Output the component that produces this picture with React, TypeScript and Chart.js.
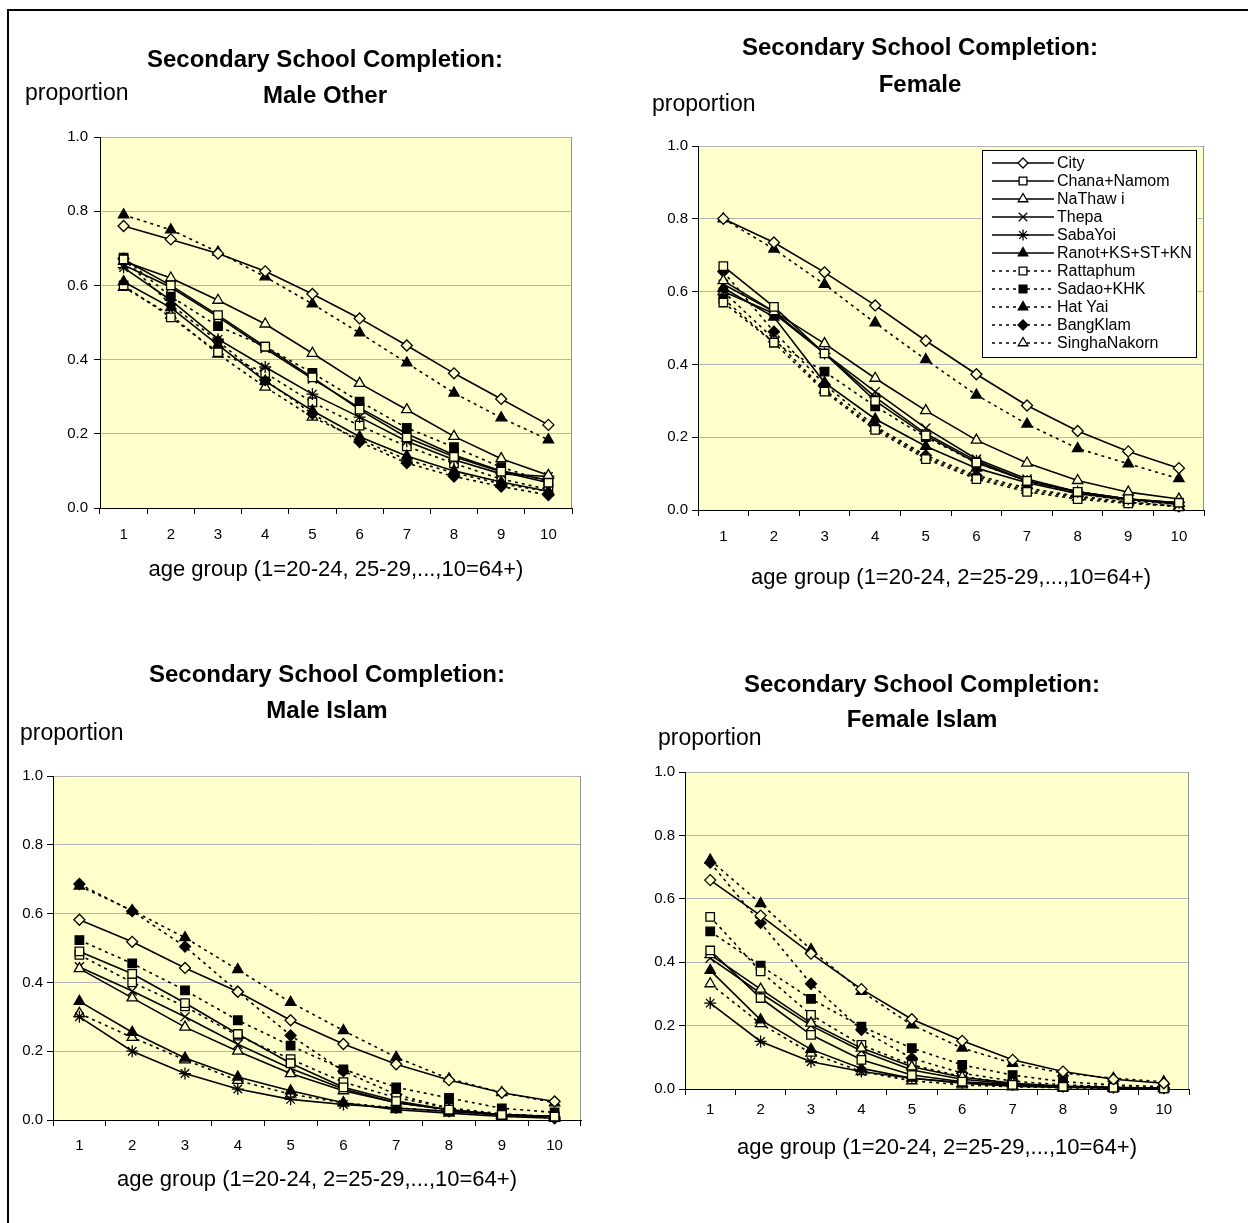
import React, { useEffect, useRef } from 'react';
import { Chart, registerables } from 'chart.js';

Chart.register(...registerables);

const FONT = "'Liberation Sans', Arial, Helvetica, sans-serif";
const PLOT_BG = '#FFFFCC';

// ---------- data ----------
const ageGroups = ['1', '2', '3', '4', '5', '6', '7', '8', '9', '10'];
const seriesNames = [
  'City', 'Chana+Namom', 'NaThaw i', 'Thepa', 'SabaYoi', 'Ranot+KS+ST+KN',
  'Rattaphum', 'Sadao+KHK', 'Hat Yai', 'BangKlam', 'SinghaNakorn',
];
const yTickValues = [0, 0.2, 0.4, 0.6, 0.8, 1.0];

// rows follow seriesNames order
const maleOther = [
  [0.76, 0.724, 0.686, 0.638, 0.577, 0.511, 0.438, 0.363, 0.294, 0.224],
  [0.67, 0.6, 0.52, 0.435, 0.352, 0.265, 0.19, 0.138, 0.098, 0.068],
  [0.665, 0.62, 0.56, 0.496, 0.417, 0.336, 0.265, 0.193, 0.133, 0.088],
  [0.655, 0.595, 0.515, 0.43, 0.348, 0.27, 0.2, 0.143, 0.1, 0.075],
  [0.648, 0.56, 0.455, 0.38, 0.307, 0.245, 0.18, 0.13, 0.092, 0.085],
  [0.61, 0.54, 0.44, 0.342, 0.262, 0.192, 0.14, 0.1, 0.07, 0.045],
  [0.6, 0.514, 0.42, 0.364, 0.285, 0.222, 0.166, 0.12, 0.078, 0.05],
  [0.675, 0.57, 0.49, 0.435, 0.364, 0.287, 0.216, 0.164, 0.11, 0.07],
  [0.79, 0.75, 0.69, 0.623, 0.55, 0.472, 0.391, 0.31, 0.243, 0.184],
  [0.672, 0.548, 0.45, 0.345, 0.254, 0.178, 0.121, 0.085, 0.058, 0.035],
  [0.595, 0.52, 0.415, 0.326, 0.245, 0.185, 0.13, 0.095, 0.065, 0.045],
];

const female = [
  [0.8, 0.735, 0.653, 0.562, 0.465, 0.373, 0.287, 0.217, 0.161, 0.115],
  [0.67, 0.558, 0.43, 0.3, 0.205, 0.13, 0.08, 0.05, 0.03, 0.02],
  [0.63, 0.545, 0.457, 0.362, 0.273, 0.192, 0.129, 0.081, 0.049, 0.03],
  [0.62, 0.545, 0.43, 0.325, 0.225, 0.14, 0.085, 0.05, 0.03, 0.015],
  [0.6, 0.54, 0.43, 0.31, 0.21, 0.135, 0.08, 0.05, 0.03, 0.02],
  [0.61, 0.53, 0.35, 0.25, 0.175, 0.115, 0.075, 0.045, 0.028, 0.02],
  [0.57, 0.46, 0.325, 0.22, 0.14, 0.085, 0.05, 0.03, 0.018, 0.01],
  [0.58, 0.46, 0.38, 0.285, 0.2, 0.13, 0.08, 0.045, 0.025, 0.015],
  [0.8, 0.717, 0.62, 0.514, 0.413, 0.316, 0.236, 0.169, 0.127, 0.086],
  [0.655, 0.49, 0.345, 0.23, 0.15, 0.095, 0.06, 0.038, 0.022, 0.01],
  [0.6, 0.47, 0.33, 0.225, 0.145, 0.09, 0.055, 0.035, 0.02, 0.01],
];

const maleIslam = [
  [0.582, 0.518, 0.442, 0.373, 0.29, 0.221, 0.162, 0.116, 0.079, 0.054],
  [0.49, 0.425, 0.34, 0.25, 0.165, 0.095, 0.055, 0.03, 0.015, 0.01],
  [0.44, 0.355, 0.27, 0.2, 0.135, 0.085, 0.05, 0.03, 0.015, 0.01],
  [0.445, 0.375, 0.3, 0.22, 0.15, 0.09, 0.05, 0.03, 0.015, 0.01],
  [0.3, 0.2, 0.135, 0.09, 0.06, 0.045, 0.035, 0.025, 0.015, 0.01],
  [0.345, 0.255, 0.18, 0.125, 0.085, 0.05, 0.03, 0.02, 0.01, 0.005],
  [0.48, 0.4, 0.33, 0.245, 0.177, 0.11, 0.065, 0.035, 0.018, 0.01],
  [0.523, 0.455, 0.377, 0.29, 0.216, 0.147, 0.095, 0.064, 0.034, 0.022],
  [0.68, 0.609, 0.53, 0.437, 0.342, 0.26, 0.182, 0.12, 0.08, 0.05],
  [0.686, 0.607, 0.504, 0.373, 0.246, 0.142, 0.074, 0.034, 0.015, 0.005],
  [0.31, 0.24, 0.175, 0.115, 0.075, 0.05, 0.035, 0.025, 0.015, 0.01],
];

const femaleIslam = [
  [0.659, 0.547, 0.427, 0.315, 0.22, 0.152, 0.092, 0.055, 0.031, 0.018],
  [0.437, 0.287, 0.171, 0.092, 0.044, 0.023, 0.013, 0.007, 0.004, 0.002],
  [0.424, 0.315, 0.208, 0.129, 0.07, 0.037, 0.018, 0.009, 0.005, 0.002],
  [0.413, 0.302, 0.2, 0.12, 0.06, 0.031, 0.016, 0.007, 0.004, 0.002],
  [0.271, 0.15, 0.086, 0.055, 0.034, 0.02, 0.013, 0.007, 0.004, 0.002],
  [0.374, 0.218, 0.125, 0.065, 0.034, 0.018, 0.009, 0.005, 0.003, 0.002],
  [0.543, 0.371, 0.234, 0.139, 0.076, 0.039, 0.018, 0.007, 0.004, 0.002],
  [0.497, 0.389, 0.284, 0.197, 0.129, 0.076, 0.044, 0.023, 0.013, 0.007],
  [0.722, 0.585, 0.44, 0.308, 0.202, 0.129, 0.081, 0.05, 0.034, 0.023],
  [0.714, 0.524, 0.332, 0.187, 0.097, 0.05, 0.025, 0.013, 0.007, 0.004],
  [0.332, 0.206, 0.113, 0.055, 0.026, 0.013, 0.007, 0.004, 0.002, 0.001],
];

// ---------- styles ----------
type MarkerStyle = { ps: string; fill: boolean; dash: boolean; r: number };
const markerStyles: MarkerStyle[] = [
  { ps: 'rectRot', fill: false, dash: false, r: 5.5 },
  { ps: 'rect', fill: false, dash: false, r: 6 },
  { ps: 'triangle', fill: false, dash: false, r: 6 },
  { ps: 'crossRot', fill: false, dash: false, r: 6.5 },
  { ps: 'star', fill: false, dash: false, r: 6 },
  { ps: 'triangle', fill: true, dash: false, r: 6 },
  { ps: 'rect', fill: false, dash: true, r: 6 },
  { ps: 'rect', fill: true, dash: true, r: 6 },
  { ps: 'triangle', fill: true, dash: true, r: 6 },
  { ps: 'rectRot', fill: true, dash: true, r: 5.5 },
  { ps: 'triangle', fill: false, dash: true, r: 6 },
];

function drawMarker(ctx: CanvasRenderingContext2D, ps: string, x: number, y: number, r: number, fill: string, bw: number) {
  ctx.save();
  ctx.setLineDash([]);
  ctx.lineWidth = bw;
  ctx.strokeStyle = '#000';
  ctx.fillStyle = fill;
  ctx.beginPath();
  const c = Math.SQRT1_2 * r;
  let filled = true;
  if (ps === 'rectRot') {
    ctx.moveTo(x, y - r); ctx.lineTo(x + r, y); ctx.lineTo(x, y + r); ctx.lineTo(x - r, y); ctx.closePath();
  } else if (ps === 'rect') {
    ctx.rect(x - c, y - c, 2 * c, 2 * c);
  } else if (ps === 'triangle') {
    ctx.moveTo(x, y - r);
    ctx.lineTo(x + Math.sin(2 * Math.PI / 3) * r, y - Math.cos(2 * Math.PI / 3) * r);
    ctx.lineTo(x + Math.sin(4 * Math.PI / 3) * r, y - Math.cos(4 * Math.PI / 3) * r);
    ctx.closePath();
  } else if (ps === 'crossRot') {
    filled = false;
    ctx.moveTo(x - c, y - c); ctx.lineTo(x + c, y + c);
    ctx.moveTo(x - c, y + c); ctx.lineTo(x + c, y - c);
  } else if (ps === 'star') {
    filled = false;
    ctx.moveTo(x - c, y - c); ctx.lineTo(x + c, y + c);
    ctx.moveTo(x - c, y + c); ctx.lineTo(x + c, y - c);
    ctx.moveTo(x, y - r); ctx.lineTo(x, y + r);
    ctx.moveTo(x - r, y); ctx.lineTo(x + r, y);
  }
  if (filled) ctx.fill();
  ctx.stroke();
  ctx.restore();
}

const plotBgPlugin = {
  id: 'plotBg',
  beforeDraw(chart: any) {
    const { ctx, chartArea: a } = chart;
    ctx.save();
    ctx.fillStyle = PLOT_BG;
    ctx.fillRect(a.left, a.top, a.right - a.left, a.bottom - a.top);
    ctx.restore();
  },
  beforeDatasetsDraw(chart: any) {
    const { ctx, chartArea: a } = chart;
    ctx.save();
    ctx.strokeStyle = '#909090';
    ctx.lineWidth = 1;
    ctx.beginPath();
    ctx.moveTo(Math.round(a.right) - 0.5, a.top);
    ctx.lineTo(Math.round(a.right) - 0.5, a.bottom);
    ctx.stroke();
    ctx.restore();
  },
};

function makeBoxLegend(offRight: number, offTop: number, w: number, h: number) {
  return {
    id: 'boxLegend',
    afterDatasetsDraw(chart: any) {
      const { ctx, chartArea: a } = chart;
      const left = Math.round(a.right - offRight - w);
      const top = Math.round(a.top + offTop);
      ctx.save();
      ctx.fillStyle = '#fff';
      ctx.fillRect(left, top, w, h);
      ctx.strokeStyle = '#000';
      ctx.lineWidth = 1;
      ctx.setLineDash([]);
      ctx.strokeRect(left + 0.5, top + 0.5, w - 1, h - 1);
      chart.data.datasets.forEach((ds: any, i: number) => {
        const y = top + 13 + i * 18;
        ctx.beginPath();
        ctx.strokeStyle = '#000';
        ctx.lineWidth = 1.5;
        ctx.setLineDash(ds.borderDash || []);
        ctx.moveTo(left + 10, y);
        ctx.lineTo(left + 72, y);
        ctx.stroke();
        ctx.setLineDash([]);
        const fill = ds.pointBackgroundColor === PLOT_BG ? '#fff' : ds.pointBackgroundColor;
        drawMarker(ctx, ds.pointStyle, left + 41, y, ds.pointRadius - 0.5, fill, ds.pointBorderWidth);
        ctx.fillStyle = '#000';
        ctx.font = `16px ${FONT}`;
        ctx.textBaseline = 'middle';
        ctx.textAlign = 'left';
        ctx.fillText(ds.label, left + 75, y + 1);
      });
      ctx.restore();
    },
  };
}

type PanelSpec = {
  rows: number[][];
  title: string[];
  xTitle: string;
  left: number; top: number; width: number; height: number;
  yW: number; rW: number; lh: number; tp: number; tb: number; xH: number; xPad: number; yPad: number;
  propX: number; propY: number;
  legend?: boolean;
};

const panels: PanelSpec[] = [
  {
    rows: maleOther, title: ['Secondary School Completion:', 'Male Other'],
    xTitle: 'age group (1=20-24, 25-29,...,10=64+)',
    left: 14, top: 14, width: 622, height: 569, yW: 86, rW: 64, lh: 36, tp: 28, tb: 23, xH: 75, xPad: 12, yPad: 6,
    propX: 25, propY: 81,
  },
  {
    rows: female, title: ['Secondary School Completion:', 'Female'],
    xTitle: 'age group (1=20-24, 2=25-29,...,10=64+)',
    left: 628, top: 14, width: 584, height: 577, yW: 70, rW: 0, lh: 37, tp: 15.5, tb: 42.5, xH: 81, xPad: 12, yPad: 4,
    propX: 652, propY: 92, legend: true,
  },
  {
    rows: maleIslam, title: ['Secondary School Completion:', 'Male Islam'],
    xTitle: 'age group (1=20-24, 2=25-29,...,10=64+)',
    left: 14, top: 620, width: 626, height: 573, yW: 39, rW: 59, lh: 36, tp: 37, tb: 47, xH: 73, xPad: 11, yPad: 4,
    propX: 20, propY: 721,
  },
  {
    rows: femaleIslam, title: ['Secondary School Completion:', 'Female Islam'],
    xTitle: 'age group (1=20-24, 2=25-29,...,10=64+)',
    left: 645, top: 620, width: 554, height: 541, yW: 40, rW: 10, lh: 35, tp: 47.5, tb: 34.5, xH: 72, xPad: 6, yPad: 4,
    propX: 658, propY: 726,
  },
];

function Panel({ spec }: { spec: PanelSpec }) {
  const ref = useRef<HTMLCanvasElement>(null);
  useEffect(() => {
    if (!ref.current) return;
    const datasets = seriesNames.map((name, i) => {
      const st = markerStyles[i];
      return {
        label: name,
        data: spec.rows[i],
        borderColor: '#000',
        borderWidth: 1.6,
        borderDash: st.dash ? [3, 4] : [],
        pointStyle: st.ps,
        pointRadius: st.r,
        pointBorderWidth: 1.3,
        pointBorderColor: '#000',
        pointBackgroundColor: st.fill ? '#000' : PLOT_BG,
        tension: 0,
        fill: false,
        clip: false as any,
      };
    });
    const plugins: any[] = [plotBgPlugin];
    if (spec.legend) plugins.push(makeBoxLegend(7, 4, 215, 208));
    const chart = new Chart(ref.current, {
      type: 'line',
      data: { labels: ageGroups, datasets },
      plugins,
      options: {
        responsive: false,
        animation: false,
        devicePixelRatio: 1,
        events: [],
        layout: { padding: 0 },
        plugins: {
          legend: { display: false },
          tooltip: { enabled: false },
          title: {
            display: true,
            text: spec.title,
            color: '#000',
            font: { family: FONT, size: 24, weight: 'bold', lineHeight: `${spec.lh}px` } as any,
            padding: { top: spec.tp, bottom: spec.tb },
          },
        },
        scales: {
          x: {
            type: 'category',
            offset: true,
            grid: { offset: true, drawOnChartArea: false, drawTicks: true, tickLength: 6, color: '#000', lineWidth: 1 },
            border: { color: '#000', width: 1 },
            ticks: { color: '#000', font: { family: FONT, size: 15 }, padding: spec.xPad, autoSkip: false, maxRotation: 0 },
            title: { display: true, text: spec.xTitle, color: '#000', font: { family: FONT, size: 22, lineHeight: 1.2 }, padding: 0 },
            afterFit: (s: any) => { s.height = spec.xH; },
          },
          y: {
            type: 'linear',
            min: yTickValues[0],
            max: yTickValues[yTickValues.length - 1],
            grid: { color: '#B4B4B4', tickColor: '#000', tickLength: 6, lineWidth: 1 },
            border: { color: '#000', width: 1 },
            ticks: {
              stepSize: 0.2,
              color: '#000',
              font: { family: FONT, size: 15 },
              padding: spec.yPad,
              callback: (v: any) => Number(v).toFixed(1),
            },
            afterFit: (s: any) => { s.width = spec.yW; },
          },
          yR: {
            type: 'linear',
            position: 'right',
            display: true,
            grid: { display: false },
            ticks: { display: false },
            border: { display: false },
            afterFit: (s: any) => { s.width = spec.rW; },
          },
        },
      } as any,
    });
    return () => chart.destroy();
  }, [spec]);
  return (
    <>
      <canvas
        ref={ref}
        width={spec.width}
        height={spec.height}
        style={{ position: 'absolute', left: spec.left, top: spec.top, width: spec.width, height: spec.height }}
      />
      <div
        style={{
          position: 'absolute', left: spec.propX, top: spec.propY, fontFamily: FONT, fontSize: 23,
          lineHeight: '23px', whiteSpace: 'nowrap', color: '#000',
        }}
      >
        proportion
      </div>
    </>
  );
}

export default function App() {
  return (
    <div style={{ position: 'absolute', left: 0, top: 0, width: 1248, height: 1223, background: '#fff', overflow: 'hidden' }}>
      <div
        style={{
          position: 'absolute', left: 7, top: 9, width: 1260, height: 1240,
          borderTop: '2px solid #000', borderLeft: '2px solid #000', boxSizing: 'border-box',
        }}
      />
      {panels.map((p, i) => <Panel key={i} spec={p} />)}
    </div>
  );
}
